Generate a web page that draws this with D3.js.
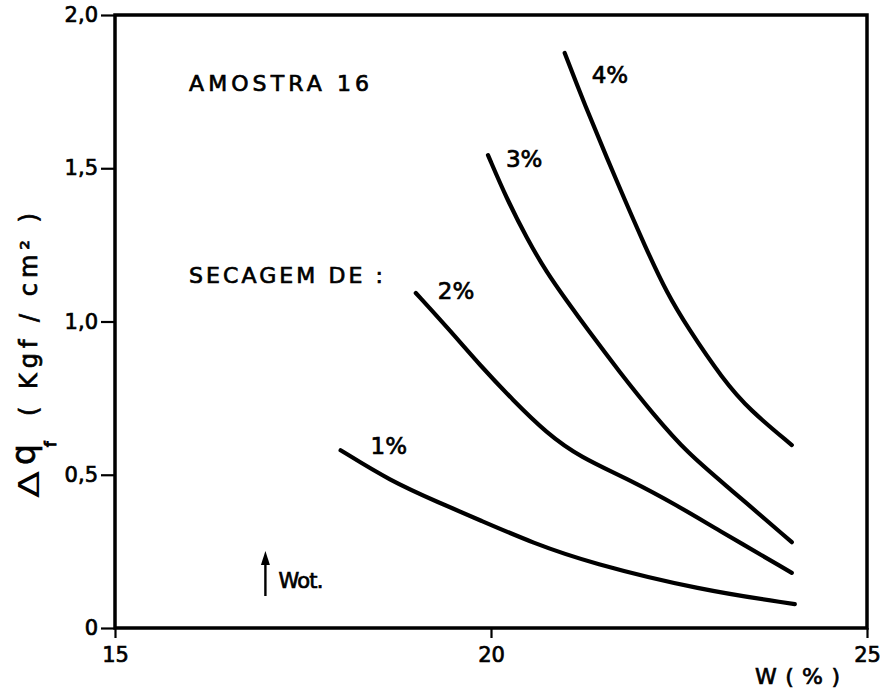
<!DOCTYPE html>
<html>
<head>
<meta charset="utf-8">
<script src="https://cdn.jsdelivr.net/npm/d3@7"></script>
<style>
  html, body { margin: 0; padding: 0; background: #fff; }
  svg { display: block; }
  text { font-family: "DejaVu Sans", "Liberation Sans", sans-serif; fill: #000; stroke: #000; stroke-width: 0.7px; }
</style>
</head>
<body>
<svg id="chart" width="893" height="690"></svg>
<script>
// Secagem (drying) curves: Δq_f versus moisture content W (%)
const seriesNames = ["1%", "2%", "3%", "4%"];

const w1 = [18.0, 18.66, 19.3, 19.85, 20.56, 21.32, 22.78, 24.04];
const q1 = [0.58, 0.48, 0.41, 0.352, 0.277, 0.212, 0.124, 0.078];

const w2 = [19.0, 19.45, 19.85, 20.29, 20.74, 21.18, 21.85, 22.51, 22.95, 24.0];
const q2 = [1.093, 0.972, 0.858, 0.744, 0.636, 0.558, 0.483, 0.395, 0.33, 0.18];

const w3 = [19.96, 20.21, 20.48, 20.74, 21.0, 21.28, 21.72, 22.15, 22.61, 23.15, 24.0];
const q3 = [1.543, 1.40, 1.27, 1.16, 1.07, 0.975, 0.832, 0.70, 0.571, 0.46, 0.28];

const w4 = [20.98, 21.22, 21.68, 22.07, 22.34, 22.61, 23.09, 23.44, 24.0];
const q4 = [1.876, 1.723, 1.452, 1.233, 1.093, 0.982, 0.809, 0.711, 0.597];

const xTicks = [15, 20, 25];
const yTicks = [0, 0.5, 1.0, 1.5, 2.0];
const wot = 17.0;

const svg = d3.select("#chart");

const x = d3.scaleLinear().domain([15, 25]).range([115, 867]);
const y = d3.scaleLinear().domain([0, 2]).range([628, 15]);

// Frame
svg.append("rect")
  .attr("x", x(15)).attr("y", y(2))
  .attr("width", x(25) - x(15)).attr("height", y(0) - y(2))
  .attr("fill", "none").attr("stroke", "#000").attr("stroke-width", 3.5);

// Axes
const fmtY = d => d === 0 ? "0" : d.toFixed(1).replace(".", ",");

const yAxis = svg.append("g")
  .attr("transform", `translate(${x(15)},0)`)
  .call(d3.axisLeft(y).tickValues(yTicks).tickFormat(fmtY).tickSize(14).tickSizeOuter(0).tickPadding(3));
yAxis.select(".domain").remove();
yAxis.selectAll(".tick line").attr("stroke-width", 2.2);
yAxis.selectAll(".tick text").style("font-size", "21px").style("font-family", "DejaVu Sans");

const xAxis = svg.append("g")
  .attr("transform", `translate(0,${y(0)})`)
  .call(d3.axisBottom(x).tickValues(xTicks).tickFormat(d3.format("d")).tickSize(10).tickSizeOuter(0).tickPadding(9));
xAxis.select(".domain").remove();
xAxis.selectAll(".tick line").attr("stroke-width", 2.2);
xAxis.selectAll(".tick text").style("font-size", "21px").style("font-family", "DejaVu Sans");

// Curves
const series = [
  { name: seriesNames[0], w: w1, q: q1 },
  { name: seriesNames[1], w: w2, q: q2 },
  { name: seriesNames[2], w: w3, q: q3 },
  { name: seriesNames[3], w: w4, q: q4 }
];

const line = d3.line()
  .x(d => x(d[0]))
  .y(d => y(d[1]))
  .curve(d3.curveBasis);

svg.append("g").selectAll("path")
  .data(series)
  .join("path")
  .attr("d", s => line(s.w.map((v, i) => [v, s.q[i]])))
  .attr("fill", "none")
  .attr("stroke", "#000")
  .attr("stroke-width", 4.2)
  .attr("stroke-linecap", "round");

// Curve labels, set just right of each curve's upper end
const labelOffsets = [[30, 4], [22, 6], [18, 12], [27, 30]];
svg.append("g").selectAll("text")
  .data(series)
  .join("text")
  .attr("x", (s, i) => x(s.w[0]) + labelOffsets[i][0])
  .attr("y", (s, i) => y(s.q[0]) + labelOffsets[i][1])
  .style("font-size", "23px")
  .text(s => s.name);

// Annotations
svg.append("text")
  .attr("x", 189).attr("y", 91)
  .attr("textLength", 180).attr("lengthAdjust", "spacing")
  .style("font-size", "22px")
  .text("AMOSTRA 16");

svg.append("text")
  .attr("x", 189).attr("y", 283)
  .attr("textLength", 194).attr("lengthAdjust", "spacing")
  .style("font-size", "22px")
  .text("SECAGEM DE :");

// Optimum moisture marker
const ax = x(wot);
svg.append("line")
  .attr("x1", ax).attr("x2", ax)
  .attr("y1", 596).attr("y2", 560)
  .attr("stroke", "#000").attr("stroke-width", 2.4);
svg.append("path")
  .attr("d", `M${ax},551 L${ax - 4.5},565 L${ax + 4.5},565 Z`)
  .attr("fill", "#000");
svg.append("text")
  .attr("x", ax + 13).attr("y", 588)
  .attr("textLength", 45).attr("lengthAdjust", "spacing")
  .style("font-size", "21px")
  .text("Wot.");

// Axis titles
svg.append("text")
  .attr("x", 755).attr("y", 684)
  .attr("textLength", 85).attr("lengthAdjust", "spacing")
  .style("font-size", "22px")
  .text("W ( % )");

const yt = svg.append("g").attr("transform", "translate(38,0) rotate(-90)");
yt.append("text")
  .attr("x", -498).attr("y", 1)
  .attr("textLength", 27).attr("lengthAdjust", "spacingAndGlyphs")
  .style("font-size", "28px").style("stroke", "none")
  .text("Δ");
yt.append("text")
  .attr("x", -465).attr("y", -3)
  .style("font-size", "33px")
  .text("q");
yt.append("text")
  .attr("x", -447).attr("y", 18)
  .style("font-size", "16px").style("stroke-width", "1px")
  .text("f");
yt.append("text")
  .attr("x", -416).attr("y", -1)
  .attr("textLength", 203).attr("lengthAdjust", "spacing")
  .style("font-size", "24px")
  .text("( Kgf / cm² )");
</script>
</body>
</html>
